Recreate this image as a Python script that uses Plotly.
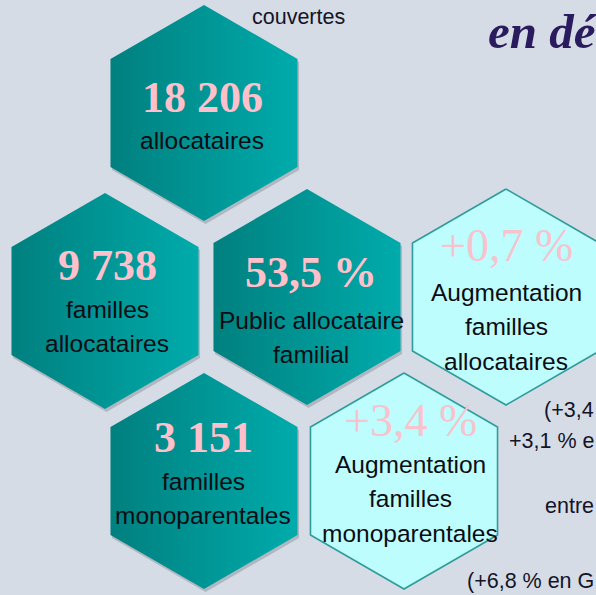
import numpy as np
import plotly.graph_objects as go

# ---- data ----
values = ["18 206", "9 738", "53,5 %", "+0,7 %", "3 151", "+3,4 %"]
labels = [
    ["allocataires"],
    ["familles", "allocataires"],
    ["Public allocataire", "familial"],
    ["Augmentation", "familles", "allocataires"],
    ["familles", "monoparentales"],
    ["Augmentation", "familles", "monoparentales"],
]
kinds = ["count", "count", "count", "change", "count", "change"]
side_texts = ["couvertes", "(+3,4", "+3,1 % e", "entre", "(+6,8 % en G"]
title_text = "en dé"

# ---- layout (positions / styles) ----
centers_x = [204, 105, 307, 506, 204, 404]
centers_y = [113, 301, 297, 297, 481, 481]
R = 108
value_dy = [-16, -36, -25, -52, -44, -61]
label_x = [202, 107, 311, 506, 203, 410]
label_y0 = [140, 309, 320, 292, 481, 464]
line_h = 34.5

BG = "#D6DCE5"
TEXT_FONT = "Liberation Sans, Arial, sans-serif"

fig = go.Figure()

def hexagon(cx, cy, r):
    w = r * np.sqrt(3) / 2
    xs = [cx, cx + w, cx + w, cx, cx - w, cx - w, cx]
    ys = [cy - r, cy - r / 2, cy + r / 2, cy + r, cy + r / 2, cy - r / 2, cy - r]
    return xs, ys

for i, (cx, cy) in enumerate(zip(centers_x, centers_y)):
    xs, ys = hexagon(cx, cy, R)
    if kinds[i] == "count":
        sx, sy = hexagon(cx + 1.5, cy + 3, R)
        fig.add_trace(go.Scatter(x=sx, y=sy, mode="lines", fill="toself",
                                 fillcolor="rgba(90,100,110,0.30)",
                                 line=dict(width=0, color="rgba(0,0,0,0)"),
                                 hoverinfo="skip", showlegend=False))
        fig.add_trace(go.Scatter(x=xs, y=ys, mode="lines", fill="toself",
                                 fillgradient=dict(type="horizontal",
                                                   colorscale=[[0, "#00807F"], [1, "#00ABAB"]]),
                                 line=dict(width=0, color="rgba(0,0,0,0)"),
                                 hoverinfo="skip", showlegend=False))
    else:
        fig.add_trace(go.Scatter(x=xs, y=ys, mode="lines", fill="toself",
                                 fillcolor="#BDFDFD",
                                 line=dict(width=1.6, color="#2F9C9B"),
                                 hoverinfo="skip", showlegend=False))

annotations = []
for i, (cx, cy) in enumerate(zip(centers_x, centers_y)):
    bold = kinds[i] == "count"
    annotations.append(dict(
        x=label_x[i], y=cy + value_dy[i], xref="x", yref="y",
        text=("<b>%s</b>" % values[i]) if bold else values[i],
        showarrow=False, xanchor="center", yanchor="middle",
        font=dict(family="Liberation Serif, Times New Roman, serif",
                  size=44 if bold else 46,
                  color="#FFC0CB" if bold else "#F7C3CD")))
    for j, line in enumerate(labels[i]):
        annotations.append(dict(
            x=label_x[i], y=label_y0[i] + j * line_h, xref="x", yref="y",
            text=line, showarrow=False, xanchor="center", yanchor="middle",
            font=dict(family=TEXT_FONT, size=24.5, color="#0C0C14")))

# side texts
side_x = [298, 596, 596, 596, 596]
side_y = [17, 410, 441, 506, 581]
side_anchor = ["center", "right", "right", "right", "right"]
for t, x, y, a in zip(side_texts, side_x, side_y, side_anchor):
    annotations.append(dict(x=x, y=y, xref="x", yref="y", text=t, showarrow=False,
                            xanchor=a, yanchor="middle",
                            font=dict(family=TEXT_FONT, size=21.5, color="#141428")))

annotations.append(dict(x=486, y=31, xref="x", yref="y", text="<b><i>%s</i></b>" % title_text,
                        showarrow=False, xanchor="left", yanchor="middle",
                        font=dict(family="Liberation Serif, DejaVu Serif, serif", size=49,
                                  color="#2A1A5E")))

fig.update_layout(
    width=596, height=595,
    margin=dict(l=0, r=0, t=0, b=0),
    paper_bgcolor=BG, plot_bgcolor=BG,
    xaxis=dict(range=[0, 596], visible=False, fixedrange=True),
    yaxis=dict(range=[595, 0], visible=False, fixedrange=True),
    annotations=annotations,
    showlegend=False,
)

fig.write_html("out.html", config={"displayModeBar": False, "staticPlot": True},
               post_script="document.body.style.margin='0';document.body.style.overflow='hidden';")
